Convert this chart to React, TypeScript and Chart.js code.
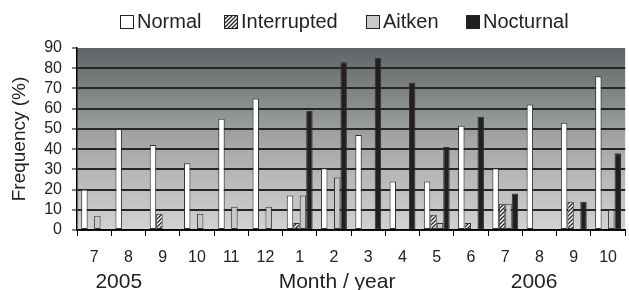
import React, { useEffect, useRef } from 'react';
import { Chart, registerables } from 'chart.js';

Chart.register(...registerables);

const months = ['7', '8', '9', '10', '11', '12', '1', '2', '3', '4', '5', '6', '7', '8', '9', '10'];
const normal = [20, 50, 42, 33, 55, 65, 17, 30.5, 47, 24, 24, 51.5, 30.5, 62, 53, 76];
const interrupted = [0, 0, 8, 0, 0, 0, 3.5, 0, 0, 0, 7.5, 3.5, 13, 0, 14, 0];
const aitken = [7, 0, 0, 8, 11.5, 11.5, 17, 26, 0, 0, 3.5, 0, 13, 0, 0, 10];
const nocturnal = [0, 0, 0, 0, 0, 0, 59, 83, 85, 73, 41, 56, 18, 0, 14, 38];
const seriesNames = ['Normal', 'Interrupted', 'Aitken', 'Nocturnal'];
const yMin = 0;
const yMax = 90;
const yStep = 10;
const yTitle = 'Frequency (%)';
const bottomNotes = ['2005', 'Month / year', '2006'];
const bottomNoteAt = [0.72, 7.09, 12.84];
const legendStartX = [120, 224, 366, 466];

const FONT = '"Liberation Sans", Arial, sans-serif';
const INK = '#222';

function makeHatch(): CanvasPattern | string {
  const c = document.createElement('canvas');
  c.width = 4;
  c.height = 4;
  const g = c.getContext('2d');
  if (!g) return '#888';
  g.fillStyle = '#fff';
  g.fillRect(0, 0, 4, 4);
  g.strokeStyle = '#222';
  g.lineWidth = 1.3;
  g.beginPath();
  g.moveTo(0, 4);
  g.lineTo(4, 0);
  g.moveTo(-1, 1);
  g.lineTo(1, -1);
  g.moveTo(3, 5);
  g.lineTo(5, 3);
  g.stroke();
  return g.createPattern(c, 'repeat') || '#888';
}

const backgroundPlugin = {
  id: 'plotBackground',
  beforeDraw(chart: any) {
    const { ctx, chartArea } = chart;
    if (!chartArea) return;
    const g = ctx.createLinearGradient(0, chartArea.top, 0, chartArea.bottom);
    g.addColorStop(0, '#5f6566');
    g.addColorStop(0.5, '#a3a5a5');
    g.addColorStop(1, '#d2d2d2');
    ctx.save();
    ctx.fillStyle = g;
    ctx.fillRect(chartArea.left, chartArea.top, chartArea.right - chartArea.left, chartArea.bottom - chartArea.top);
    ctx.restore();
  },
};

const annotationPlugin = {
  id: 'legendAndNotes',
  afterDraw(chart: any) {
    const { ctx } = chart;
    const xs = chart.scales.x;
    ctx.save();
    ctx.font = `20px ${FONT}`;
    ctx.textBaseline = 'alphabetic';
    ctx.textAlign = 'left';
    chart.data.datasets.forEach((ds: any, i: number) => {
      const x = legendStartX[i];
      const box = 13;
      const top = 15;
      ctx.fillStyle = ds.backgroundColor;
      ctx.fillRect(x + 0.5, top + 0.5, box, box);
      ctx.strokeStyle = INK;
      ctx.lineWidth = 1;
      ctx.strokeRect(x + 0.5, top + 0.5, box, box);
      ctx.fillStyle = INK;
      ctx.fillText(ds.label, x + box + 4, 28);
    });
    ctx.font = `21px ${FONT}`;
    ctx.textAlign = 'center';
    const step = (xs.right - xs.left) / months.length;
    bottomNotes.forEach((t, i) => {
      const x = xs.left + (bottomNoteAt[i] + 0.5) * step;
      ctx.fillText(t, x, 288);
    });
    ctx.restore();
  },
};

const hideZero = (arr: number[]) => arr.map((v) => (v === 0 ? null : v));

export default function App() {
  const ref = useRef<HTMLCanvasElement | null>(null);

  useEffect(() => {
    if (!ref.current) return;
    const hatch = makeHatch();
    const chart = new Chart(ref.current, {
      type: 'bar',
      data: {
        labels: months,
        datasets: [
          { label: seriesNames[0], data: hideZero(normal), backgroundColor: '#ffffff' },
          { label: seriesNames[1], data: hideZero(interrupted), backgroundColor: hatch as any },
          { label: seriesNames[2], data: hideZero(aitken), backgroundColor: '#c9c9c9' },
          { label: seriesNames[3], data: hideZero(nocturnal), backgroundColor: '#231f20' },
        ].map((d) => ({
          ...d,
          borderColor: '#333',
          borderWidth: 1,
          borderSkipped: false,
          categoryPercentage: 0.755,
          barPercentage: 1,
        })),
      },
      options: {
        animation: false,
        responsive: true,
        maintainAspectRatio: false,
        layout: { padding: { top: 48, right: 1, left: 0, bottom: 0 } },
        plugins: {
          legend: { display: false },
          tooltip: { enabled: false },
        },
        scales: {
          x: {
            afterFit: (s: any) => {
              s.height = 60;
            },
            grid: {
              display: true,
              drawOnChartArea: false,
              drawTicks: true,
              tickLength: 6,
              color: '#000',
              offset: true,
            },
            border: { display: true, color: '#000', width: 1.5 },
            ticks: {
              color: INK,
              font: { family: FONT, size: 16 },
              padding: 12,
              maxRotation: 0,
              autoSkip: false,
            },
          },
          y: {
            min: yMin,
            max: yMax,
            afterFit: (s: any) => {
              s.width = 77;
            },
            grid: {
              color: (c: any) => (c.tick && c.tick.value === yMax ? 'rgba(0,0,0,0)' : '#262626'),
              lineWidth: 2,
              tickLength: 5,
              tickColor: '#000',
              tickWidth: 1,
            },
            border: { display: true, color: '#000', width: 1.5 },
            ticks: {
              stepSize: yStep,
              autoSkip: false,
              color: INK,
              font: { family: FONT, size: 16 },
              padding: 10,
            },
            title: {
              display: true,
              text: yTitle,
              color: INK,
              font: { family: FONT, size: 19 },
              padding: { top: 8, bottom: 0 },
            },
          },
        },
      },
      plugins: [backgroundPlugin, annotationPlugin],
    });
    return () => chart.destroy();
  }, []);

  return (
    <div style={{ position: 'fixed', left: 0, top: 0, width: 629, height: 290, background: '#fff' }}>
      <canvas ref={ref} />
    </div>
  );
}
